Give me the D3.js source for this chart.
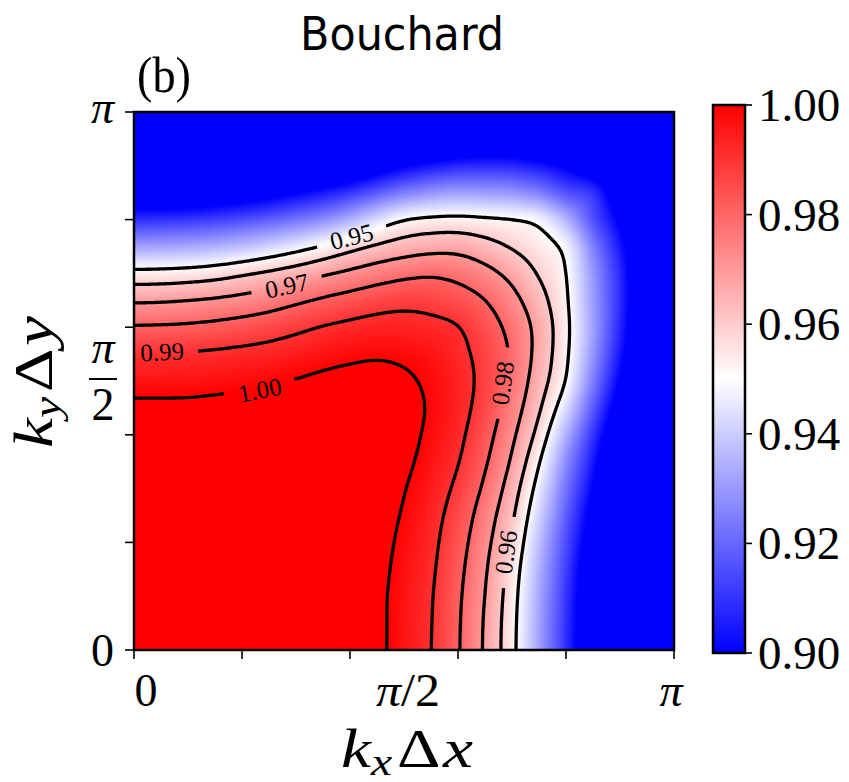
<!DOCTYPE html>
<html><head><meta charset="utf-8">
<script src="https://cdn.jsdelivr.net/npm/d3@7"></script>
<style>body{margin:0;background:#fff} svg{display:block}</style>
</head><body>
<svg id="chart" width="849" height="782"></svg>
<script>
// ---------------- data ----------------
const title = "Bouchard";
const panelLabel = "(b)";
// grid nodes in units of π (same for kxΔx and kyΔy)
const gridPi = [0,0.05,0.10,0.15,0.20,0.25,0.30,0.35,0.40,0.45,0.50,0.55,0.60,0.65,0.70,0.75,0.80,0.85,0.90,0.95,1.00];
// values[row = kyΔy node][col = kxΔx node]
const values = [
[1.006,1.006,1.006,1.006,1.006,1.006,1.006,1.006,1.006,1.002,.9962,.9902,.9808,.9688,.9531,.9315,.9090,.8835,.8560,.8285,.8010],
[1.006,1.006,1.006,1.006,1.006,1.006,1.006,1.006,1.006,1.002,.9963,.9904,.9810,.9691,.9534,.9320,.9095,.8841,.8566,.8291,.8016],
[1.006,1.006,1.006,1.006,1.006,1.006,1.006,1.006,1.006,1.002,.9965,.9907,.9815,.9700,.9543,.9329,.9104,.8852,.8577,.8302,.8027],
[1.006,1.006,1.006,1.006,1.006,1.006,1.006,1.006,1.006,1.0026,.9970,.9914,.9825,.9712,.9559,.9347,.9122,.8874,.8599,.8324,.8049],
[1.006,1.006,1.006,1.006,1.006,1.006,1.006,1.006,1.006,1.0034,.9978,.9922,.9839,.9729,.9588,.9374,.9149,.8907,.8632,.8357,.8082],
[1.006,1.006,1.006,1.006,1.006,1.006,1.006,1.006,1.006,1.0045,.9990,.9932,.9858,.9751,.9617,.9413,.9183,.8945,.8670,.8395,.8120],
[1.006,1.006,1.006,1.006,1.006,1.006,1.006,1.006,1.006,1.0059,1.0004,.9947,.9881,.9783,.9650,.9458,.9227,.8995,.8720,.8445,.8170],
[1.006,1.006,1.006,1.006,1.006,1.006,1.006,1.006,1.006,1.006,1.0021,.9964,.9905,.9812,.9688,.9509,.9276,.9042,.8775,.8500,.8225],
[1.006,1.006,1.006,1.006,1.006,1.006,1.006,1.006,1.006,1.006,1.0034,.9978,.9921,.9836,.9720,.9567,.9345,.9102,.8841,.8566,.8291],
[1.002,1.002,1.002,1.0026,1.0034,1.0045,1.0059,1.006,1.006,1.006,1.0042,.9987,.9933,.9860,.9750,.9614,.9429,.9177,.8918,.8643,.8368],
[.9962,.9963,.9965,.9970,.9978,.9990,1.0004,1.0021,1.0034,1.0042,1.0018,.9980,.9934,.9874,.9776,.9646,.9500,.9245,.8990,.8714,.8439],
[.9902,.9904,.9907,.9914,.9922,.9932,.9947,.9964,.9978,.9987,.9980,.9961,.9923,.9869,.9788,.9665,.9522,.9290,.9040,.8769,.8494],
[.9808,.9810,.9815,.9825,.9839,.9858,.9881,.9905,.9921,.9933,.9934,.9923,.9905,.9844,.9772,.9667,.9528,.9313,.9072,.8808,.8533],
[.9688,.9691,.9700,.9712,.9729,.9751,.9783,.9812,.9836,.9860,.9874,.9869,.9844,.9802,.9731,.9635,.9517,.9306,.9081,.8824,.8549],
[.9531,.9534,.9543,.9559,.9588,.9617,.9650,.9688,.9720,.9750,.9776,.9788,.9772,.9731,.9671,.9591,.9505,.9294,.9075,.8819,.8544],
[.9315,.9320,.9329,.9347,.9374,.9413,.9458,.9509,.9567,.9614,.9646,.9665,.9667,.9635,.9591,.9544,.9475,.9250,.9040,.8780,.8505],
[.9090,.9095,.9104,.9122,.9149,.9183,.9227,.9276,.9345,.9429,.9500,.9522,.9528,.9517,.9505,.9475,.9350,.9160,.8973,.8698,.8423],
[.8835,.8841,.8852,.8874,.8907,.8945,.8995,.9042,.9102,.9177,.9245,.9290,.9313,.9306,.9294,.9250,.9160,.9095,.8874,.8599,.8324],
[.8560,.8566,.8577,.8599,.8632,.8670,.8720,.8775,.8841,.8918,.8990,.9040,.9072,.9081,.9075,.9040,.8973,.8874,.8820,.8580,.8320],
[.8285,.8291,.8302,.8324,.8357,.8395,.8445,.8500,.8566,.8643,.8714,.8769,.8808,.8824,.8819,.8780,.8698,.8599,.8580,.8520,.8280],
[.8010,.8016,.8027,.8049,.8082,.8120,.8170,.8225,.8291,.8368,.8439,.8494,.8533,.8549,.8544,.8505,.8423,.8324,.8320,.8280,.8220]
];
const contourLevels = [0.95, 0.96, 0.97, 0.98, 0.99, 1.00];
const colorDomain = [0.90, 0.95, 1.00];
const colorTicks = [0.90, 0.92, 0.94, 0.96, 0.98, 1.00];
const axisTicksPi = [0, 0.2, 0.4, 0.6, 0.8, 1.0];
// contour label placement (layout): position in units of π, angle in degrees
const contourLabels = [
  {level: 0.95, at: [0.403, 0.768], angle: -14},
  {level: 0.97, at: [0.283, 0.677], angle: -12},
  {level: 0.99, at: [0.052, 0.554], angle: -3},
  {level: 1.00, at: [0.233, 0.483], angle: -11},
  {level: 0.98, at: [0.683, 0.496], angle: -82},
  {level: 0.96, at: [0.689, 0.182], angle: -82}
];

// ---------------- layout ----------------
const X0 = 134, X1 = 674, Y0 = 650, Y1 = 112;
const SERIF = "'Liberation Serif','Times New Roman',serif";
const svg = d3.select("#chart");
const x = d3.scaleLinear().domain([0, Math.PI]).range([X0, X1]);
const y = d3.scaleLinear().domain([0, Math.PI]).range([Y0, Y1]);
const colorRGB = d3.scaleLinear().domain(colorDomain).range([[0,0,255],[255,255,255],[255,0,0]]).clamp(true);
const colorCSS = d3.scaleLinear().domain(colorDomain).range(["#0000ff","#ffffff","#ff0000"]).clamp(true);

// smooth (bicubic) rendering of the grid
const n = gridPi.length, step = gridPi[1] - gridPi[0];
function val(j, i) {
  if (i < 0) i = -i;
  if (j < 0) j = -j;
  if (i > n - 1) return 2 * val(j, n - 1) - val(j, n - 2);
  if (j > n - 1) return 2 * val(n - 1, i) - val(n - 2, i);
  return values[j][i];
}
function cub(p0, p1, p2, p3, t) {
  return p1 + 0.5 * t * (p2 - p0 + t * (2*p0 - 5*p1 + 4*p2 - p3 + t * (3*(p1 - p2) + p3 - p0)));
}
function sample(kxPi, kyPi) {
  const u = Math.max(0, kxPi) / step, v = Math.max(0, kyPi) / step;
  const iu = Math.min(Math.floor(u), n - 2), iv = Math.min(Math.floor(v), n - 2);
  const fu = u - iu, fv = v - iv;
  const r = [];
  for (let dj = -1; dj <= 2; dj++) {
    const j = iv + dj;
    r.push(cub(val(j, iu-1), val(j, iu), val(j, iu+1), val(j, iu+2), fu));
  }
  return cub(r[0], r[1], r[2], r[3], fv);
}

// heatmap
const W = X1 - X0, H = Y0 - Y1;
const canvas = document.createElement("canvas");
canvas.width = W; canvas.height = H;
const ctx = canvas.getContext("2d");
const img = ctx.createImageData(W, H);
for (let py = 0; py < H; py++) {
  const kyPi = y.invert(Y1 + py + 0.5) / Math.PI;
  for (let px = 0; px < W; px++) {
    const kxPi = x.invert(X0 + px + 0.5) / Math.PI;
    const c = colorRGB(sample(kxPi, kyPi));
    const o = (py * W + px) * 4;
    img.data[o] = c[0]; img.data[o+1] = c[1]; img.data[o+2] = c[2]; img.data[o+3] = 255;
  }
}
ctx.putImageData(img, 0, 0);
svg.append("image").attr("x", X0).attr("y", Y1).attr("width", W).attr("height", H)
  .attr("preserveAspectRatio", "none").attr("href", canvas.toDataURL());

// contours (sampled finely, lightly smoothed)
const Mf = 241;
const fine = new Float64Array(Mf * Mf);
for (let r = 0; r < Mf; r++) for (let c = 0; c < Mf; c++) fine[r*Mf + c] = sample(c/(Mf-1), r/(Mf-1));
function boxBlur(a, w, h, rad) {
  const tmp = new Float64Array(a.length);
  for (let r = 0; r < h; r++) for (let c = 0; c < w; c++) {
    let s = 0;
    for (let k = -rad; k <= rad; k++) { const cc = Math.min(w-1, Math.max(0, c+k)); s += a[r*w+cc]; }
    tmp[r*w+c] = s / (2*rad+1);
  }
  for (let r = 0; r < h; r++) for (let c = 0; c < w; c++) {
    let s = 0;
    for (let k = -rad; k <= rad; k++) { const rr = Math.min(h-1, Math.max(0, r+k)); s += tmp[rr*w+c]; }
    a[r*w+c] = s / (2*rad+1);
  }
}
boxBlur(fine, Mf, Mf, 3); boxBlur(fine, Mf, Mf, 3);
const contours = d3.contours().size([Mf, Mf]).thresholds(contourLevels)(fine);
const toPx = p => [x((p[0]-0.5)/(Mf-1)*Math.PI), y((p[1]-0.5)/(Mf-1)*Math.PI)];
const isBorder = p => p[0] < 0.25 || p[0] > Mf - 0.25 || p[1] < 0.25 || p[1] > Mf - 0.25;
function openLines(mp) {
  const out = [];
  mp.coordinates.forEach(poly => poly.forEach(ring => {
    const pts = ring.slice(0, -1);
    const k = pts.findIndex(isBorder);
    if (k < 0) { out.push(ring.map(toPx)); return; }
    const rot = pts.slice(k).concat(pts.slice(0, k));
    let cur = [];
    rot.forEach(p => {
      if (isBorder(p)) { if (cur.length > 1) out.push(cur); cur = []; }
      else cur.push(toPx(p));
    });
    if (cur.length > 1) out.push(cur);
  }));
  return out;
}

const defs = svg.append("defs");
defs.append("clipPath").attr("id", "plotclip").append("rect")
  .attr("x", X0).attr("y", Y1).attr("width", W).attr("height", H);
const GAP = 72;
contourLevels.forEach((lv, li) => {
  const m = defs.append("mask").attr("id", "cm" + li).attr("maskUnits", "userSpaceOnUse")
    .attr("x", 0).attr("y", 0).attr("width", 849).attr("height", 782);
  m.append("rect").attr("width", 849).attr("height", 782).attr("fill", "#fff");
  contourLabels.filter(l => l.level === lv).forEach(l => {
    m.append("rect").attr("x", -GAP/2).attr("y", -9).attr("width", GAP).attr("height", 18)
      .attr("fill", "#000")
      .attr("transform", `translate(${x(l.at[0]*Math.PI)},${y(l.at[1]*Math.PI)}) rotate(${l.angle})`);
  });
});
const line = d3.line().curve(d3.curveBasis);
const cg = svg.append("g").attr("clip-path", "url(#plotclip)");
contours.forEach(cn => {
  const li = contourLevels.indexOf(cn.value);
  const g = cg.append("g").attr("mask", `url(#cm${li})`);
  openLines(cn).forEach(pts => {
    g.append("path").attr("d", line(pts)).attr("fill", "none")
      .attr("stroke", "#000").attr("stroke-width", 3.3)
      .attr("stroke-linejoin", "round").attr("stroke-linecap", "butt");
  });
});
const fmt = d3.format(".2f");
svg.append("g").selectAll("text").data(contourLabels).join("text")
  .attr("transform", l => `translate(${x(l.at[0]*Math.PI)},${y(l.at[1]*Math.PI)}) rotate(${l.angle})`)
  .attr("text-anchor", "middle").attr("dominant-baseline", "central")
  .attr("font-family", SERIF).attr("font-size", 25).attr("fill", "#000")
  .text(l => fmt(l.level));

// frame
svg.append("rect").attr("x", X0).attr("y", Y1).attr("width", W).attr("height", H)
  .attr("fill", "none").attr("stroke", "#000").attr("stroke-width", 2.5);

// ticks
svg.append("g").selectAll("line").data(axisTicksPi).join("line")
  .attr("x1", d => x(d*Math.PI)).attr("x2", d => x(d*Math.PI))
  .attr("y1", Y0 + 1).attr("y2", Y0 + 9).attr("stroke", "#000").attr("stroke-width", 1.6);
svg.append("g").selectAll("line").data(axisTicksPi).join("line")
  .attr("y1", d => y(d*Math.PI)).attr("y2", d => y(d*Math.PI))
  .attr("x1", X0 - 1).attr("x2", X0 - 9).attr("stroke", "#000").attr("stroke-width", 1.6);

const FS = 46;
function mathText(sel, parts) {
  parts.forEach(p => {
    const t = sel.append("tspan").text(p.t);
    if (p.i) t.attr("font-style", "italic");
    if (p.fs) t.attr("font-size", p.fs);
    if (p.dy) t.attr("dy", p.dy);
    if (p.dx) t.attr("dx", p.dx);
  });
  return sel;
}
// x tick labels
const xl = svg.append("g").attr("font-family", SERIF).attr("font-size", FS).attr("text-anchor", "middle");
mathText(xl.append("text").attr("x", x(0) + 12).attr("y", 706), [{t: "0"}]);
mathText(xl.append("text").attr("x", x(Math.PI/2) + 4).attr("y", 706)
  .attr("textLength", 64).attr("lengthAdjust", "spacingAndGlyphs"), [{t: "π", i: 1}, {t: "/"}, {t: "2"}]);
mathText(xl.append("text").attr("x", x(Math.PI) - 3).attr("y", 706), [{t: "π", i: 1}]);
// y tick labels
const yl = svg.append("g").attr("font-family", SERIF).attr("font-size", FS);
mathText(yl.append("text").attr("x", 114).attr("y", y(Math.PI) + 11).attr("text-anchor", "end"), [{t: "π", i: 1}]);
mathText(yl.append("text").attr("x", 114).attr("y", y(0) + 16).attr("text-anchor", "end"), [{t: "0"}]);
mathText(yl.append("text").attr("x", 103).attr("y", 363).attr("text-anchor", "middle"), [{t: "π", i: 1}]);
yl.append("line").attr("x1", 89).attr("x2", 117).attr("y1", 379).attr("y2", 379).attr("stroke", "#000").attr("stroke-width", 2);
mathText(yl.append("text").attr("x", 103).attr("y", 420).attr("text-anchor", "middle"), [{t: "2"}]);

// axis labels
const axl = svg.append("g").attr("font-family", SERIF).attr("font-size", 54);
mathText(axl.append("text").attr("x", 407).attr("y", 767).attr("text-anchor", "middle")
  .attr("textLength", 132).attr("lengthAdjust", "spacingAndGlyphs"),
  [{t: "k", i: 1}, {t: "x", i: 1, fs: 38, dy: 8}, {t: "Δ", dy: -8, dx: 4}, {t: "x", i: 1, dx: 2}]);
mathText(axl.append("text").attr("transform", "translate(52,382) rotate(-90)").attr("text-anchor", "middle")
  .attr("textLength", 132).attr("lengthAdjust", "spacingAndGlyphs"),
  [{t: "k", i: 1}, {t: "y", i: 1, fs: 38, dy: 8}, {t: "Δ", dy: -8, dx: 4}, {t: "y", i: 1, dx: 2}]);

// title & panel label
svg.append("text").attr("x", 402).attr("y", 50).attr("text-anchor", "middle")
  .attr("font-family", "'DejaVu Sans',sans-serif").attr("font-size", 46)
  .attr("textLength", 204).attr("lengthAdjust", "spacingAndGlyphs").text(title);
svg.append("text").attr("x", 137).attr("y", 92).attr("font-family", SERIF).attr("font-size", 50)
  .attr("textLength", 54).attr("lengthAdjust", "spacingAndGlyphs").text(panelLabel);

// colorbar
const CBX = 713, CBW = 32, CBT = 105, CBB = 653;
const cy = d3.scaleLinear().domain([colorDomain[0], colorDomain[2]]).range([CBB, CBT]);
const grad = defs.append("linearGradient").attr("id", "cbgrad").attr("x1", 0).attr("x2", 0).attr("y1", 1).attr("y2", 0);
colorDomain.forEach(v => grad.append("stop")
  .attr("offset", (v - colorDomain[0]) / (colorDomain[2] - colorDomain[0]))
  .attr("stop-color", colorCSS(v)));
svg.append("rect").attr("x", CBX).attr("y", CBT).attr("width", CBW).attr("height", CBB - CBT)
  .attr("fill", "url(#cbgrad)").attr("stroke", "#000").attr("stroke-width", 2.5);
svg.append("g").selectAll("line").data(colorTicks).join("line")
  .attr("x1", CBX + CBW + 1).attr("x2", CBX + CBW + 7)
  .attr("y1", d => cy(d)).attr("y2", d => cy(d)).attr("stroke", "#000").attr("stroke-width", 1.6);
svg.append("g").selectAll("text").data(colorTicks).join("text")
  .attr("x", 758).attr("y", d => cy(d) + 16)
  .attr("font-family", SERIF).attr("font-size", 47).text(d => fmt(d));
</script>
</body></html>
